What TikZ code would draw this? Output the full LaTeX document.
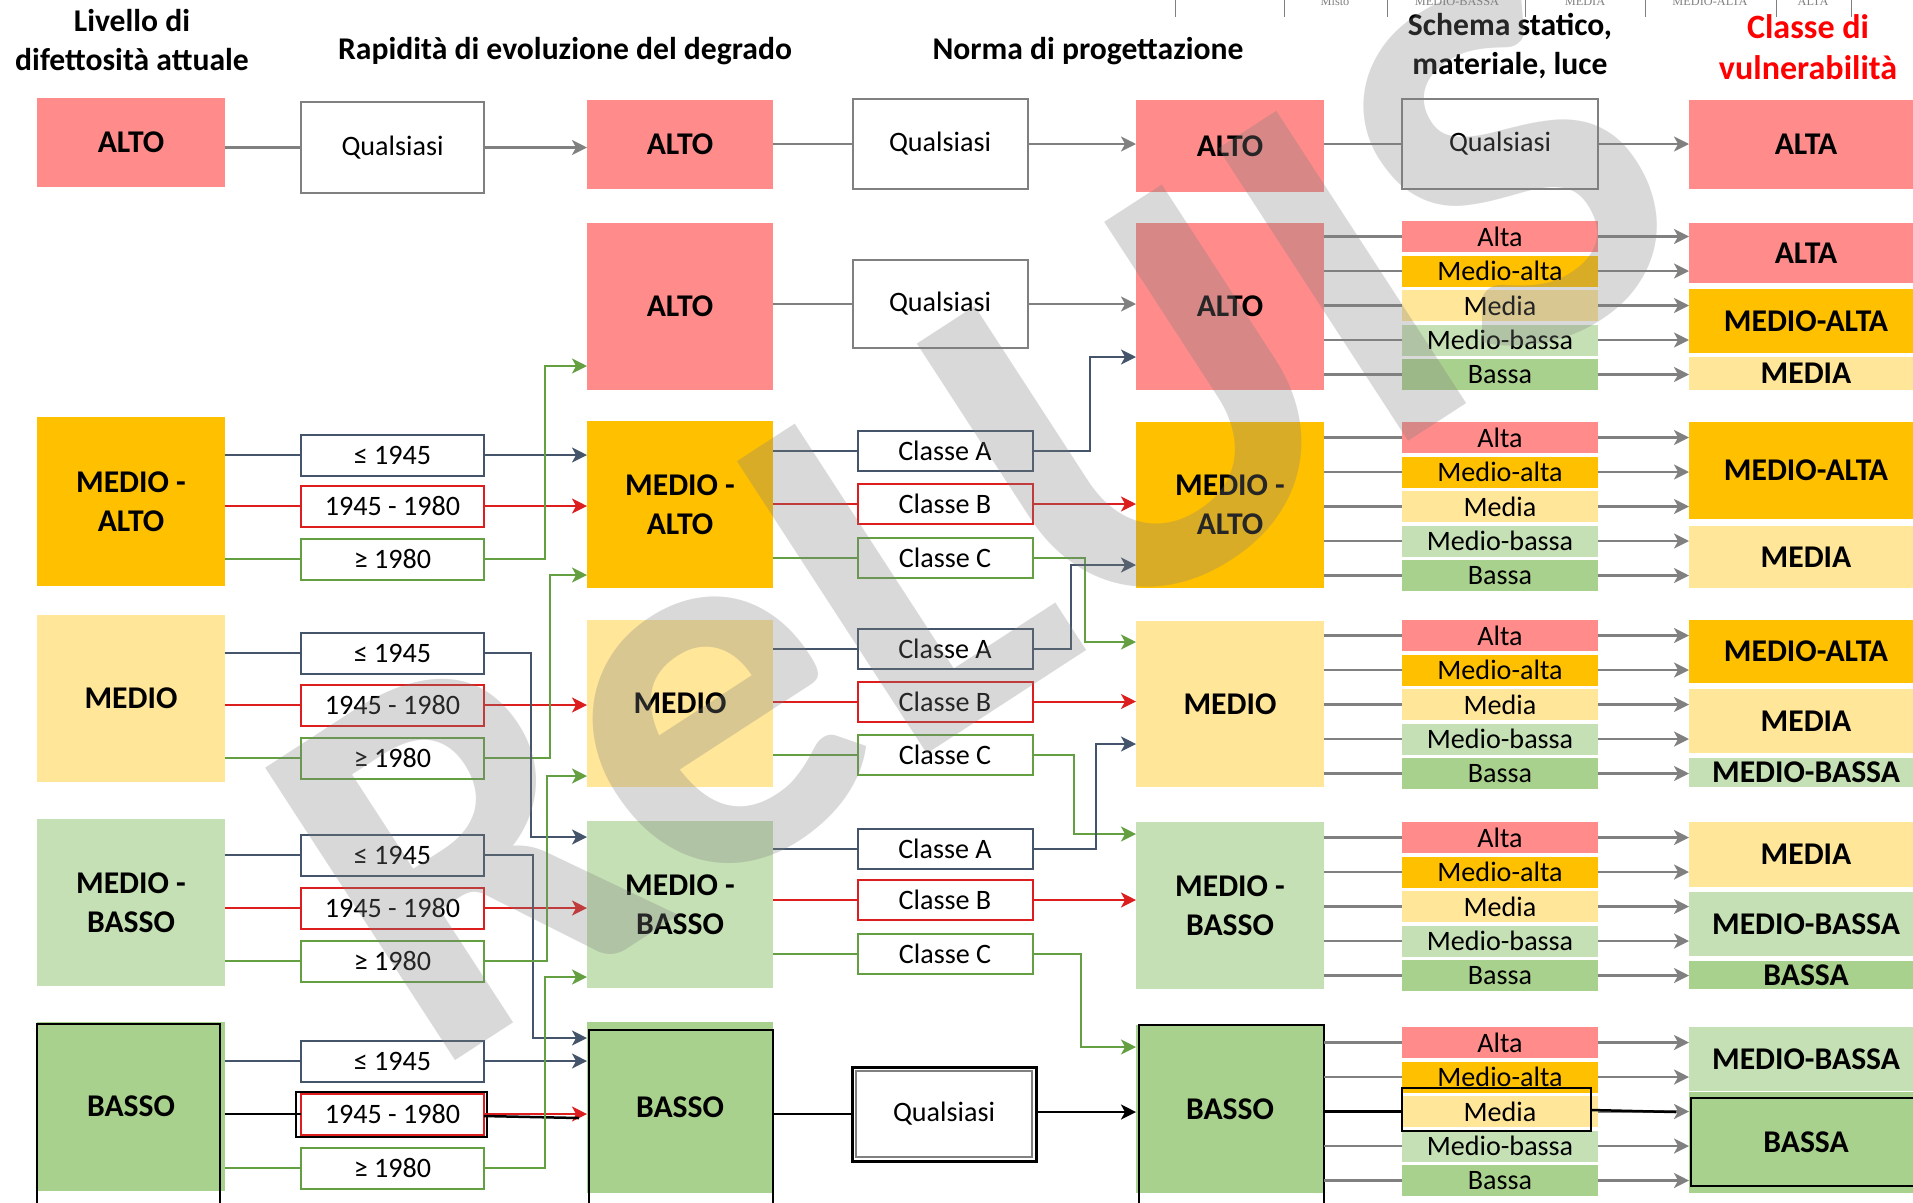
\documentclass[tikz,border=0pt]{standalone}
\usepackage{fontspec}
\setmainfont{Carlito}
\newfontfamily\tabfont{Liberation Serif}
\usetikzlibrary{arrows.meta}
\definecolor{cAlto}{HTML}{FF8B8B}
\definecolor{cMAlto}{HTML}{FFC000}
\definecolor{cMedio}{HTML}{FFE699}
\definecolor{cMBasso}{HTML}{C5E0B4}
\definecolor{cBasso}{HTML}{A9D18E}
\definecolor{cSlate}{HTML}{44546A}
\definecolor{cRed}{HTML}{DC1E1E}
\definecolor{cGreen}{HTML}{64A041}
\definecolor{cGray}{HTML}{808080}
\definecolor{cHead}{HTML}{FF0000}
\begin{document}
\begin{tikzpicture}[x=0.1mm,y=-0.1mm,
    every node/.style={inner sep=0pt,outer sep=0pt,align=center},
    big/.style={font=\bfseries\fontsize{9}{11}\selectfont},
    small/.style={font=\fontsize{8}{9.6}\selectfont},
    alto/.style={fill=cAlto}, malto/.style={fill=cMAlto}, medio/.style={fill=cMedio},
    mbasso/.style={fill=cMBasso}, basso/.style={fill=cBasso},
    c1/.style={big,minimum width=18.8mm},
    c2/.style={minimum width=18.3mm,minimum height=4.1mm},
    c3/.style={big,minimum width=18.6mm},
    c4/.style={minimum width=17.5mm,minimum height=4.0mm},
    c5/.style={big,minimum width=18.8mm},
    c6/.style={small,minimum width=19.6mm},
    c7/.style={big,minimum width=23.4mm},
    bar/.style={c6,minimum height=3.1mm},
    qual/.style={small,draw=cGray,line width=0.2mm,fill=white},
    yA/.style={small,draw=cSlate,line width=0.2mm,fill=white},
    yB/.style={small,draw=cRed,line width=0.2mm,fill=white},
    yC/.style={small,draw=cGreen,line width=0.2mm,fill=white},
    gl/.style={draw=cGray,line width=0.25mm},
    lA/.style={draw=cSlate,line width=0.2mm},
    lB/.style={draw=cRed,line width=0.2mm},
    lC/.style={draw=cGreen,line width=0.2mm},
    lK/.style={draw=black,line width=0.25mm},
    ar/.style={-{Stealth[length=1.5mm,width=1.5mm,inset=0.4mm]}},
    frame/.style={draw=black,line width=0.25mm}
  ]
  \useasboundingbox (0,0) rectangle (1913,1202);
  \tikzset{
    tabl/.style={draw=gray,line width=0.1mm},
    tabt/.style={anchor=base,text=gray,font=\tabfont\fontsize{3.5}{4}\selectfont},
    wmark/.style={rotate=33,text=gray,opacity=0.3,font=\bfseries\fontsize{153}{160}\selectfont}
  }

  % piece of table above
  \foreach \x in {1175,1284,1387,1525,1645,1776,1851}
    \draw[tabl] (\x,-5) -- (\x,17);
  \foreach \x/\t in {1335/Misto,1457/MEDIO-BASSA,1585/MEDIA,1710/MEDIO-ALTA,1813/ALTA}
    \node[tabt] at (\x,5) {\t};

  % headers
  \node[big] (h1) at (132,40) {Livello di\\difettosità attuale};
  \node[big] (h2) at (565,51) {Rapidità di evoluzione del degrado};
  \node[big] (h3) at (1088,51) {Norma di progettazione};
  \node[big] (h4) at (1510,46) {Schema statico,\\materiale, luce};
  \node[text=cHead,font=\bfseries\fontsize{9.7}{11.8}\selectfont] (h5) at (1808,47) {Classe di\\vulnerabilità};

  % livello di difettosita
  \node[c1,alto,minimum height=8.9mm] (l1) at (131,142.5) {ALTO};
  \node[c1,malto,minimum height=16.9mm] (l2) at (131,501.5) {MEDIO -\\ALTO};
  \node[c1,medio,minimum height=16.7mm] (l3) at (131,698.5) {MEDIO};
  \node[c1,mbasso,minimum height=16.7mm] (l4) at (131,902.5) {MEDIO -\\BASSO};
  \node[c1,basso,minimum height=16.9mm] (l5) at (131,1106.5) {BASSO};
  \draw[frame] (37,1024) rectangle (220,1230);

  % rapidita
  \node[c2,qual,minimum height=9.1mm] (r1) at (392.5,147.5) {Qualsiasi};
  \foreach \r/\ya/\yb/\yc in {2/455/506/559,3/653/705/758,4/855/908/961,5/1061/1114/1168}{
    \node[c2,yA] (r\r a) at (392.5,\ya) {≤ 1945};
    \node[c2,yB] (r\r b) at (392.5,\yb) {1945 - 1980};
    \node[c2,yC] (r\r c) at (392.5,\yc) {≥ 1980};
  }
  \draw[frame] (296,1092) rectangle (487,1137);

  \draw[gl] (l1.east |- r1) -- (r1.west);
  \foreach \r in {2,...,5}{
    \draw[lA] (r\r a.west -| l\r.east) -- (r\r a.west);
    \draw[lB] (r\r b.west -| l\r.east) -- (r\r b.west);
    \draw[lC] (r\r c.west -| l\r.east) -- (r\r c.west);
  }
  \draw[lK] (r5b.west -| l5.east) -- (r5b.west);

  % degrado
  \node[c3,alto,minimum height=8.9mm] (d1) at (680,144.5) {ALTO};
  \node[c3,alto,minimum height=16.7mm] (d2) at (680,306.5) {ALTO};
  \node[c3,malto,minimum height=16.7mm] (d3) at (680,504.5) {MEDIO -\\ALTO};
  \node[c3,medio,minimum height=16.7mm] (d4) at (680,703.5) {MEDIO};
  \node[c3,mbasso,minimum height=16.7mm] (d5) at (680,904.5) {MEDIO -\\BASSO};
  \node[c3,basso,minimum height=17.1mm] (d6) at (680,1107.5) {BASSO};
  \draw[frame] (589,1030) rectangle (773,1230);

  \draw[gl,ar] (r1.east) -- (r1.east -| d1.west);
  \draw[lA,ar] (r2a.east) -- (r2a.east -| d3.west);
  \draw[lB,ar] (r2b.east) -- (r2b.east -| d3.west);
  \draw[lB,ar] (r3b.east) -- (r3b.east -| d4.west);
  \draw[lB,ar] (r4b.east) -- (r4b.east -| d5.west);
  \draw[lA,ar] (r5a.east) -- (r5a.east -| d6.west);
  \draw[lB,ar] (r5b.east) -- (r5b.east -| d6.west);
  \draw[lK] ([yshift=-0.2mm]r5b.east) -- ([yshift=-0.4mm,xshift=-0.8mm]r5b.east -| d6.west);
  \draw[lC,ar] (r2c.east) -| (545,366) -- (d2.west |- 0,366);
  \draw[lC,ar] (r3c.east) -| (550,575) -- (d3.west |- 0,575);
  \draw[lA,ar] (r3a.east) -| (531,837) -- (d5.west |- 0,837);
  \draw[lA,ar] (r4a.east) -| (533,1038) -- (d6.west |- 0,1038);
  \draw[lC,ar] (r4c.east) -| (547,776) -- (d4.west |- 0,776);
  \draw[lC,ar] (r5c.east) -| (545,977) -- (d5.west |- 0,977);

  % norma
  \node[c4,qual,minimum height=9mm] (n1) at (940,144) {Qualsiasi};
  \node[c4,qual,minimum height=8.8mm] (n2) at (940,304) {Qualsiasi};
  \foreach \r/\ya/\yb/\yc in {3/451/504/558,4/649/701.5/754.5,5/848.5/900/953.5}{
    \node[c4,yA] (n\r a) at (945,\ya) {Classe A};
    \node[c4,yB] (n\r b) at (945,\yb) {Classe B};
    \node[c4,yC] (n\r c) at (945,\yc) {Classe C};
  }
  \node[c4,qual,minimum width=17.6mm,minimum height=8.6mm] (n6) at (944,1114) {Qualsiasi};
  \draw[frame,line width=0.3mm] (852,1067) rectangle (1036,1161);

  \draw[gl] (d1.east |- n1) -- (n1.west);
  \draw[gl] (d2.east |- n2) -- (n2.west);
  \foreach \r in {3,4,5}{
    \draw[lA] (n\r a.west -| d\r.east) -- (n\r a.west);
    \draw[lB] (n\r b.west -| d\r.east) -- (n\r b.west);
    \draw[lC] (n\r c.west -| d\r.east) -- (n\r c.west);
  }
  \draw[lK] (d6.east |- n6) -- (852,1114);

  % risultato norma
  \node[c5,alto,minimum height=9.2mm] (p1) at (1230,146) {ALTO};
  \node[c5,alto,minimum height=16.7mm] (p2) at (1230,306.5) {ALTO};
  \node[c5,malto,minimum height=16.6mm] (p3) at (1230,505) {MEDIO -\\ALTO};
  \node[c5,medio,minimum height=16.6mm] (p4) at (1230,704) {MEDIO};
  \node[c5,mbasso,minimum height=16.7mm] (p5) at (1230,905.5) {MEDIO -\\BASSO};
  \node[c5,basso,minimum height=16.8mm] (p6) at (1230,1109) {BASSO};
  \draw[frame] (1139,1025) rectangle (1324,1230);

  \draw[gl,ar] (n1.east) -- (n1.east -| p1.west);
  \draw[gl,ar] (n2.east) -- (n2.east -| p2.west);
  \draw[lA,ar] (n3a.east) -| (1090,357) -- (p2.west |- 0,357);
  \draw[lB,ar] (n3b.east) -- (n3b.east -| p3.west);
  \draw[lC,ar] (n3c.east) -| (1085,642) -- (p4.west |- 0,642);
  \draw[lA,ar] (n4a.east) -| (1071,565) -- (p3.west |- 0,565);
  \draw[lB,ar] (n4b.east) -- (n4b.east -| p4.west);
  \draw[lC,ar] (n4c.east) -| (1074,834) -- (p5.west |- 0,834);
  \draw[lA,ar] (n5a.east) -| (1096,744) -- (p4.west |- 0,744);
  \draw[lB,ar] (n5b.east) -- (n5b.east -| p5.west);
  \draw[lC,ar] (n5c.east) -| (1081,1047) -- (p6.west |- 0,1047);
  \draw[lK,ar] (1036,1112) -- (p6.west |- 0,1112);

  % schema statico
  \node[c6,qual,minimum height=9mm] (s1) at (1500,144) {Qualsiasi};
  \node[c7,alto,minimum height=8.9mm] (v1) at (1806,144.5) {ALTA};
  \draw[gl] (p1.east |- s1) -- (s1.west);
  \draw[gl,ar] (s1.east) -- (s1.east -| v1.west);
  \foreach \b/\top in {2/221,3/422,4/620,5/822,6/1027}{
    \foreach \lab/\sty [count=\i from 0] in {Alta/alto,Medio-alta/malto,Media/medio,Medio-bassa/mbasso,Bassa/basso}{
      \node[bar,\sty] (s\b\i) at (1500,\top+15.5+\i*34.5) {\lab};
      \draw[gl] (s\b\i.west -| p\b.east) -- (s\b\i.west);
      \draw[gl,ar] (s\b\i.east) -- (s\b\i.east -| v1.west);
    }
  }
  \draw[frame] (1402,1088) rectangle (1591,1131);
  \draw[lK] (p6.east |- s62) -- (s62.west);
  \draw[lK] (1591,1110) -- (1676,1112);

  % classe di vulnerabilita
  \node[c7,alto,minimum height=6.0mm] (v2a) at (1806,253) {ALTA};
  \node[c7,malto,minimum height=6.4mm] (v2b) at (1806,321) {MEDIO-ALTA};
  \node[c7,medio,minimum height=3.3mm] (v2c) at (1806,373.5) {MEDIA};
  \node[c7,malto,minimum height=9.7mm] (v3a) at (1806,470.5) {MEDIO-ALTA};
  \node[c7,medio,minimum height=6.2mm] (v3b) at (1806,557) {MEDIA};
  \node[c7,malto,minimum height=6.3mm] (v4a) at (1806,651.5) {MEDIO-ALTA};
  \node[c7,medio,minimum height=6.4mm] (v4b) at (1806,721) {MEDIA};
  \node[c7,mbasso,minimum height=2.9mm] (v4c) at (1806,772.5) {MEDIO-BASSA};
  \node[c7,medio,minimum height=6.5mm] (v5a) at (1806,854.5) {MEDIA};
  \node[c7,mbasso,minimum height=6.4mm] (v5b) at (1806,924) {MEDIO-BASSA};
  \node[c7,basso,minimum height=2.8mm] (v5c) at (1806,975) {BASSA};
  \node[c7,mbasso,minimum height=6.4mm] (v6a) at (1806,1059) {MEDIO-BASSA};
  \node[c7,basso,minimum height=10.1mm] (v6b) at (1806,1142.5) {BASSA};
  \draw[frame] (1691,1098) rectangle (1930,1186);

  % watermark
  \node[wmark] (wm) at (975,515) {ReLUIS};
\end{tikzpicture}
\end{document}
